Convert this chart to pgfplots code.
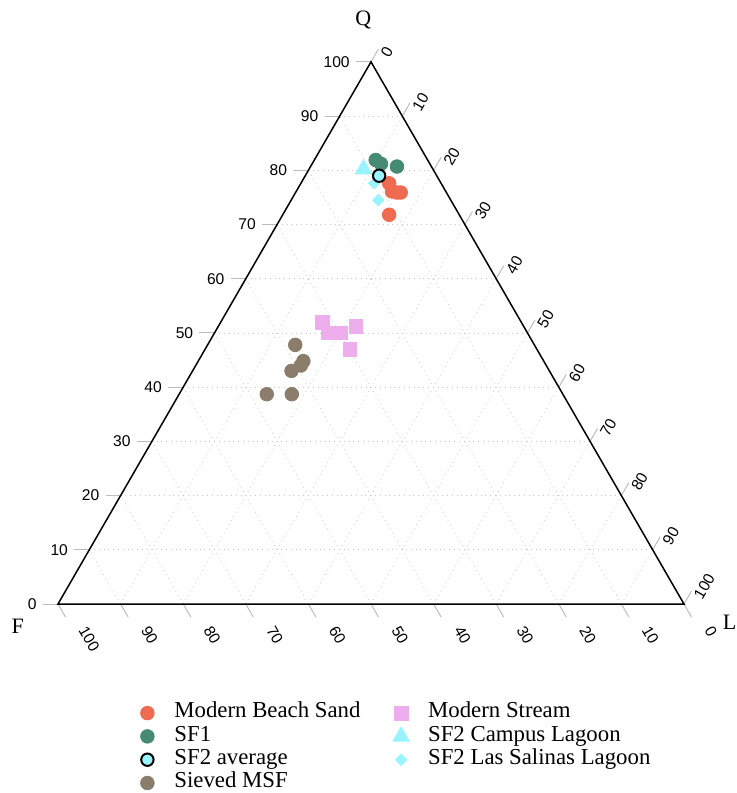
\documentclass[border=0pt]{standalone}
\usepackage{pgfplots}
\pgfplotsset{compat=1.18}
\usepackage{pgfplotstable}
\usepackage{fontspec}
\setmainfont{Liberation Serif}
\newfontfamily\ticksans{Liberation Sans}

\definecolor{beach}{HTML}{EE6A50}
\definecolor{sfone}{HTML}{458B74}
\definecolor{sftwo}{HTML}{98F5FF}
\definecolor{sieved}{HTML}{8B7D6B}
\definecolor{stream}{HTML}{EEAEEE}
\definecolor{gridgray}{HTML}{C8C8C8}
\definecolor{tickgray}{HTML}{BDBDBD}

% Compositions in percent: Q (quartz), L (lithics), F (feldspar)
\pgfplotstableread{
Q    L    F
77.6 14.1 8.3
76.1 15.3 8.6
75.9 16.2 7.9
75.9 16.8 7.3
71.8 17.0 11.2
}\beachsand
\pgfplotstableread{
Q    L    F
81.9 9.8  8.3
81.2 11.0 7.8
80.7 13.8 5.5
}\sfone
\pgfplotstableread{
Q    L    F
79.0 11.8 9.2
}\sftwoavg
\pgfplotstableread{
Q    L    F
80.2 8.7  11.1
}\campus
\pgfplotstableread{
Q    L    F
77.6 11.7 10.7
74.5 13.9 11.6
}\salinas
\pgfplotstableread{
Q    L    F
52.0 16.2 31.8
50.0 18.1 31.9
50.0 20.1 29.9
51.2 22.0 26.8
47.0 23.1 29.9
}\stream
\pgfplotstableread{
Q    L    F
47.8 14.0 38.2
44.8 16.8 38.4
44.0 16.8 39.2
43.0 15.8 41.2
38.7 14.0 47.3
38.7 18.0 43.3
}\sievedmsf

% ternary (Q,L) -> cartesian position inside the equilateral triangle
\pgfplotsset{
  /pgfplots/table/tern/.style={
    /pgfplots/table/x expr=\thisrow{L}+0.5*\thisrow{Q},
    /pgfplots/table/y expr=0.8660254*\thisrow{Q}},
  dot legend/.style={legend image code/.code={
      \path[draw=none, fill=none] (-5pt,-5pt) rectangle (5pt,5pt);
      \draw[##1] plot coordinates {(0pt,0pt)};}},
}

\begin{document}
\begin{tikzpicture}
\begin{axis}[
  x=3.13pt, y=3.13pt,
  xmin=0, xmax=100, ymin=0, ymax=86.60254,
  enlargelimits=false,
  axis lines=none, xtick=\empty, ytick=\empty,
  clip=false,
  dot legend,
  legend columns=2,
  legend cell align=left,
  legend style={draw=none, fill=none,
    at={(0.1262,-0.179)}, anchor=north west,
    font=\fontsize{11.4}{13}\selectfont, inner sep=0pt, row sep=0pt,
    nodes={inner sep=0pt, text height=8.2pt, text depth=3.45pt},
    /tikz/every odd column/.append style={column sep=8.5pt},
    /tikz/every even column/.append style={column sep=15.3pt}},
]
% grid
\pgfplotsinvokeforeach{10,20,...,90}{
  \draw[gridgray, dotted, line width=0.4pt] (axis cs:#1/2,0.8660254*#1) -- (axis cs:100-#1/2,0.8660254*#1);
  \draw[gridgray, dotted, line width=0.4pt] (axis cs:#1,0) -- (axis cs:50+#1/2,86.60254-0.8660254*#1);
  \draw[gridgray, dotted, line width=0.4pt] (axis cs:100-#1,0) -- (axis cs:50-#1/2,86.60254-0.8660254*#1);
}
% ticks and tick labels
\pgfplotsinvokeforeach{0,10,...,100}{
  \draw[tickgray, line width=0.5pt] (axis cs:#1/2,0.8660254*#1) -- (axis cs:#1/2-2.4,0.8660254*#1);
  \node[anchor=east, inner sep=0pt, font=\ticksans\fontsize{7.8}{9}\selectfont]
    at (axis cs:#1/2-3.35,0.8660254*#1) {#1};
  \draw[tickgray, line width=0.5pt] (axis cs:50+#1/2,86.60254-0.8660254*#1) -- (axis cs:51.2+#1/2,88.68254-0.8660254*#1);
  \node[anchor=west, rotate=60, inner sep=0pt, font=\ticksans\fontsize{7.8}{9}\selectfont]
    at (axis cs:52.18+#1/2,87.56254-0.8660254*#1) {#1};
  \draw[tickgray, line width=0.5pt] (axis cs:100-#1,0) -- (axis cs:101.2-#1,-2.08);
  \node[anchor=west, rotate=-60, inner sep=0pt, font=\ticksans\fontsize{7.8}{9}\selectfont]
    at (axis cs:103.91-#1,-3.71) {#1};
}
% triangle frame
\draw[black, line width=0.75pt] (axis cs:0,0) -- (axis cs:100,0) -- (axis cs:50,86.60254) -- cycle;
% apex titles
\node[font=\fontsize{11}{13}\selectfont] at (axis cs:48.77,93.3) {Q};
\node[font=\fontsize{11}{13}\selectfont] at (axis cs:-6.45,-3.51) {F};
\node[font=\fontsize{11}{13}\selectfont] at (axis cs:107.3,-2.88) {L};

% data
\addplot[only marks, mark=*, mark size=3.4pt, color=beach, forget plot] table[tern] {\beachsand};
\addplot[only marks, mark=*, mark size=3.4pt, color=sfone, forget plot] table[tern] {\sfone};
\addplot[only marks, mark=*, mark size=3.4pt, color=sieved, forget plot] table[tern] {\sievedmsf};
\addplot[only marks, mark=square*, mark size=3.4pt, color=stream, forget plot] table[tern] {\stream};
\addplot[only marks, mark=triangle*, mark size=4.7pt, color=sftwo, forget plot] table[tern] {\campus};
\addplot[only marks, mark=square*, mark size=2.0pt, mark options={rotate=45}, color=sftwo, forget plot] table[tern] {\salinas};
\addplot[only marks, mark=*, mark size=3.1pt, mark options={draw=black, fill=sftwo, line width=1pt}, forget plot] table[tern] {\sftwoavg};

% legend, filled row by row
\addlegendimage{mark=*, mark size=3.4pt, color=beach}
\addlegendentry{Modern Beach Sand}
\addlegendimage{mark=square*, mark size=3.4pt, color=stream}
\addlegendentry{Modern Stream}
\addlegendimage{mark=*, mark size=3.4pt, color=sfone}
\addlegendentry{SF1}
\addlegendimage{mark=triangle*, mark size=4.7pt, color=sftwo}
\addlegendentry{SF2 Campus Lagoon}
\addlegendimage{mark=*, mark size=3.1pt, mark options={draw=black, fill=sftwo, line width=1pt}}
\addlegendentry{SF2 average}
\addlegendimage{mark=square*, mark size=2.0pt, mark options={rotate=45}, color=sftwo}
\addlegendentry{SF2 Las Salinas Lagoon}
\addlegendimage{mark=*, mark size=3.4pt, color=sieved}
\addlegendentry{Sieved MSF}

\coordinate (bbll) at (axis cs:-9.265,-30.19);
\coordinate (bbur) at (axis cs:108.31,96.49);
\end{axis}
\pgfresetboundingbox
\path (bbll) rectangle (bbur);
\end{tikzpicture}
\end{document}
